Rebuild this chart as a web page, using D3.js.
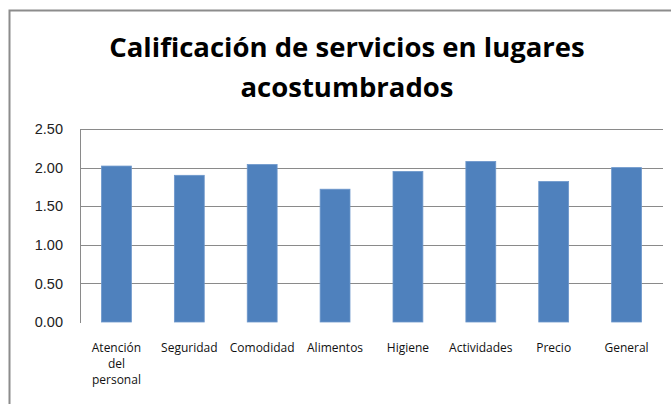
<!DOCTYPE html>
<html>
<head>
<meta charset="utf-8">
<script src="https://cdn.jsdelivr.net/npm/d3@7"></script>
<style>
  body { margin: 0; background: #fff; }
  svg { display: block; font-family: "Open Sans", "Noto Sans", sans-serif; }
</style>
</head>
<body>
<svg id="chart" width="671" height="404"></svg>
<script>
// datos
var categorias = ["Atención del personal", "Seguridad", "Comodidad", "Alimentos", "Higiene", "Actividades", "Precio", "General"];
var valores = [2.02, 1.90, 2.04, 1.72, 1.95, 2.08, 1.82, 2.00];
var ticksY = [0, 0.5, 1.0, 1.5, 2.0, 2.5];
var titulo = ["Calificación de servicios en lugares", "acostumbrados"];

const svg = d3.select("#chart");
const margin = { top: 129, right: 8, bottom: 82, left: 80 };
const width = 671 - margin.left - margin.right;
const height = 404 - margin.top - margin.bottom;

// marco del area del grafico
svg.append("path")
    .attr("d", "M9.5,404 V10.5 H671")
    .attr("fill", "none")
    .attr("stroke", "#8c8c8c")
    .attr("stroke-width", 2);

// titulo
const tit = svg.append("text")
    .attr("text-anchor", "middle")
    .attr("font-weight", 700)
    .attr("font-size", 27.5)
    .attr("fill", "#000");
tit.selectAll("tspan").data(titulo).enter().append("tspan")
    .attr("x", 347)
    .attr("y", (d, i) => 57 + i * 40)
    .text(d => d);

const g = svg.append("g")
    .attr("transform", `translate(${margin.left},${margin.top})`);

const xScale = d3.scaleBand()
    .domain(categorias)
    .range([0, width])
    .paddingInner(0.59)
    .paddingOuter(0.295);

const yScale = d3.scaleLinear()
    .domain([0, 2.5])
    .range([height, 0]);

// lineas de cuadricula
g.selectAll(".grid").data(ticksY.filter(t => t > 0))
    .enter().append("line")
    .attr("class", "grid")
    .attr("x1", 0)
    .attr("x2", width)
    .attr("y1", d => Math.round(yScale(d)) + 0.5)
    .attr("y2", d => Math.round(yScale(d)) + 0.5)
    .attr("stroke", "#8a8a8a")
    .attr("stroke-width", 1);

// eje y
const yAxis = d3.axisLeft(yScale)
    .tickValues(ticksY)
    .tickFormat(d3.format(".2f"))
    .tickSize(0)
    .tickPadding(17);
const ya = g.append("g").call(yAxis);
ya.select(".domain").attr("stroke", "#8a8a8a").attr("d", `M0.5,0V${height + 1}`);
ya.selectAll("text")
    .attr("font-size", 14.5)
    .attr("fill", "#222");

// barras
g.selectAll(".bar").data(valores)
    .enter().append("rect")
    .attr("class", "bar")
    .attr("x", (d, i) => xScale(categorias[i]))
    .attr("width", xScale.bandwidth())
    .attr("y", d => yScale(d))
    .attr("height", d => height - yScale(d))
    .attr("fill", "#4f81bd")
    .attr("stroke", "#6d97cb")
    .attr("stroke-width", 0.8);

// etiquetas del eje x (con salto de linea para "Atención del personal")
const lineas = {
    "Atención del personal": ["Atención", "del", "personal"]
};
const xa = g.append("g").attr("transform", `translate(0,${height})`);
categorias.forEach(function(c) {
    const t = xa.append("text")
        .attr("text-anchor", "middle")
        .attr("font-size", 12)
        .attr("fill", "#111");
    (lineas[c] || [c]).forEach(function(l, i) {
        t.append("tspan")
            .attr("x", xScale(c) + xScale.bandwidth() / 2)
            .attr("y", 30 + i * 16)
            .text(l);
    });
});
</script>
</body>
</html>
